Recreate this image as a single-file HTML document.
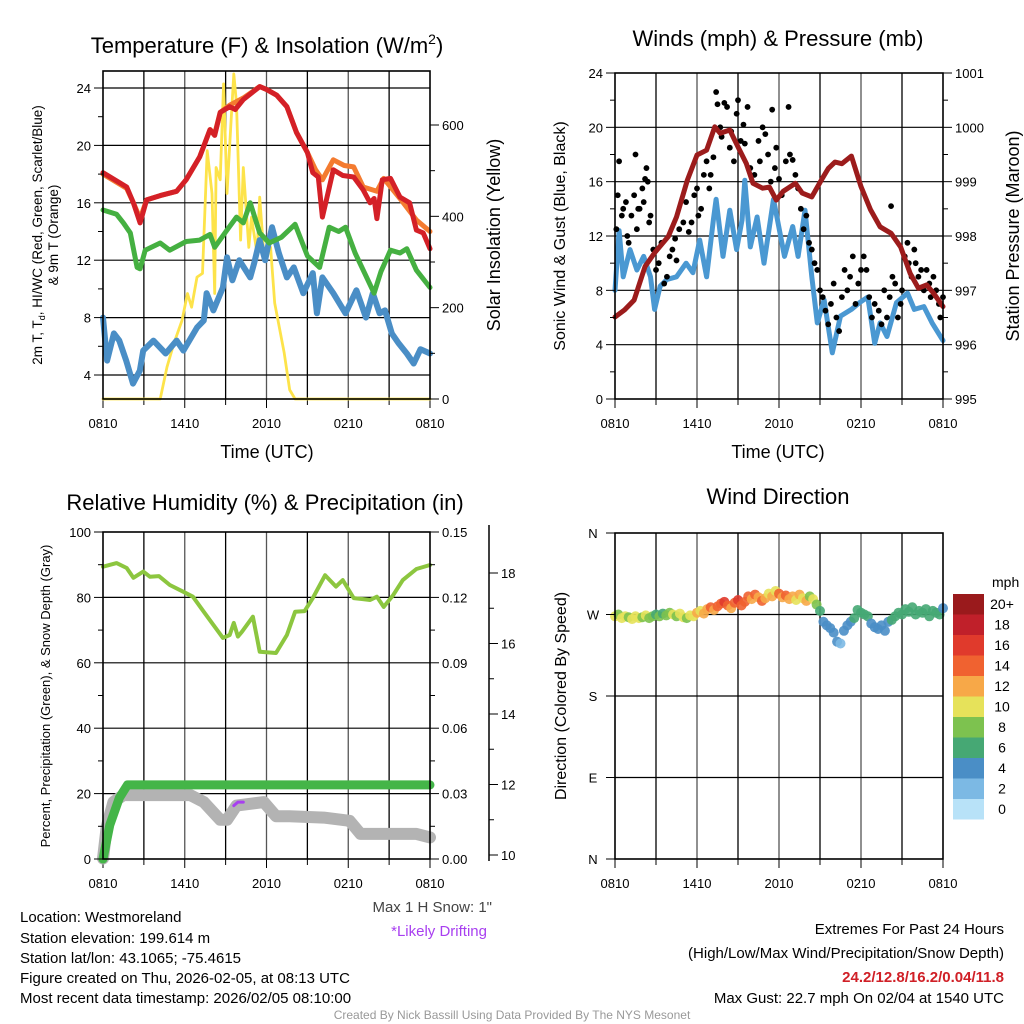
<!DOCTYPE html>
<html><head><meta charset="utf-8"><title>Station Meteogram</title>
<style>
html,body{margin:0;padding:0;background:#fff;}
svg{display:block;font-family:"Liberation Sans",Arial,sans-serif;}
</style></head>
<body>
<svg id="chart" width="1024" height="1024" viewBox="0 0 1024 1024" xmlns="http://www.w3.org/2000/svg">
<g id="static">
<text x="267" y="53" font-size="22" text-anchor="middle">Temperature (F) &amp; Insolation (W/m<tspan font-size="14" dy="-9">2</tspan><tspan dy="9">)</tspan></text>
<text x="778" y="46" font-size="22" text-anchor="middle">Winds (mph) &amp; Pressure (mb)</text>
<text x="265" y="510" font-size="22" text-anchor="middle">Relative Humidity (%) &amp; Precipitation (in)</text>
<text x="778" y="504" font-size="22" text-anchor="middle">Wind Direction</text>
<text x="267" y="458" font-size="18" text-anchor="middle">Time (UTC)</text>
<text x="778" y="458" font-size="18" text-anchor="middle">Time (UTC)</text>
<g transform="translate(42,235) rotate(-90)" font-size="13.5" text-anchor="middle">
<text x="0" y="0">2m T, T<tspan font-size="9" dy="3">d</tspan><tspan dy="-3">, HI/WC (Red, Green, Scarlet/Blue)</tspan></text>
<text x="0" y="16">&amp; 9m T (Orange)</text></g>
<text transform="translate(500,235) rotate(-90)" font-size="18" text-anchor="middle">Solar Insolation (Yellow)</text>
<text transform="translate(565,236) rotate(-90)" font-size="16" text-anchor="middle">Sonic Wind &amp; Gust (Blue, Black)</text>
<text transform="translate(1019,236) rotate(-90)" font-size="18" text-anchor="middle">Station Pressure (Maroon)</text>
<text transform="translate(50,696) rotate(-90)" font-size="13" text-anchor="middle">Percent, Precipitation (Green), &amp; Snow Depth (Gray)</text>
<text transform="translate(566,696) rotate(-90)" font-size="16" text-anchor="middle">Direction (Colored By Speed)</text>
<g font-size="15">
<text x="20" y="922">Location: Westmoreland</text>
<text x="20" y="943">Station elevation: 199.614 m</text>
<text x="20" y="963">Station lat/lon: 43.1065; -75.4615</text>
<text x="20" y="983">Figure created on Thu, 2026-02-05, at 08:13 UTC</text>
<text x="20" y="1003">Most recent data timestamp: 2026/02/05 08:10:00</text>
</g>
<text x="492" y="912" font-size="15" fill="#444" text-anchor="end">Max 1 H Snow: 1"</text>
<text x="487" y="936" font-size="15" fill="#a83ff0" text-anchor="end">*Likely Drifting</text>
<g font-size="15" text-anchor="end">
<text x="1004" y="934">Extremes For Past 24 Hours</text>
<text x="1004" y="958">(High/Low/Max Wind/Precipitation/Snow Depth)</text>
<text x="1004" y="982" fill="#d02027" font-weight="bold">24.2/12.8/16.2/0.04/11.8</text>
<text x="1004" y="1003">Max Gust: 22.7 mph On 02/04 at 1540 UTC</text>
</g>
<text x="512" y="1019" font-size="12" fill="#999" text-anchor="middle">Created By Nick Bassill Using Data Provided By The NYS Mesonet</text>
</g>
<g id="dyn"></g>
</svg>
<script>
// ---------- DATA ----------
const xTickLabels = ["0810","1410","2010","0210","0810"];
const tempTicks = [4,8,12,16,20,24];
const solarTicks = [0,200,400,600];
const windTicks = [0,4,8,12,16,20,24];
const presTicks = [995,996,997,998,999,1000,1001];
const rhTicks = [0,20,40,60,80,100];
const precipTicks = ["0.00","0.03","0.06","0.09","0.12","0.15"];
const snowTicks = [10,12,14,16,18];
const dirTickLabels = ["N","E","S","W","N"];
const dirTickValues = [0,90,180,270,360];

const redT = [0,1.74,2.23,2.72,3.2,4.2,5.4,6.1,7.1,7.85,8.2,8.6,9.3,9.7,10.3,11.5,12.0,12.75,13.5,14.2,15.0,15.4,15.8,16.1,16.4,16.9,17.6,18.4,19.1,19.6,19.9,20.1,20.5,21.1,21.8,22.5,23.0,23.5,24];
const redV = [18.1,17.1,16.0,14.6,16.2,16.5,16.8,17.6,19.2,21.1,20.7,22.3,22.7,22.5,23.2,24.1,23.9,23.5,22.7,20.9,19.5,18.1,17.8,15.0,16.2,18.3,17.9,17.8,16.9,16.0,16.3,14.9,17.6,17.7,16.4,16.0,14.1,13.9,12.8];
const orangeT = [0,1.74,2.23,2.72,3.2,4.2,5.4,6.1,7.1,7.85,8.2,8.6,9.3,10.3,11.5,12.0,12.75,13.5,14.2,15.0,15.6,16.1,16.9,17.7,18.4,19.1,20.1,20.6,21.8,23.0,24];
const orangeV = [18.0,17.0,16.0,14.9,16.2,16.5,16.8,17.6,19.2,21.1,20.8,22.3,22.8,23.3,24.1,23.9,23.5,22.7,20.9,19.5,18.3,17.6,19.0,18.6,18.5,17.1,16.8,17.7,16.3,14.8,14.0];
const greenT = [0,1.0,1.5,2.0,2.5,2.72,3.1,4.2,4.9,6.1,7.1,7.85,8.2,9.1,9.8,10.3,10.8,11.5,12.2,13.1,14.1,15.0,15.9,16.6,17.3,17.8,18.5,19.2,19.9,20.4,21.1,21.8,22.3,23.0,24];
const greenV = [15.5,15.2,14.6,13.9,11.5,11.4,12.7,13.2,12.7,13.3,13.4,13.8,12.9,14.1,15.0,14.6,16.0,13.9,13.2,13.6,14.5,12.3,11.5,14.3,14.0,14.3,12.5,11.1,9.7,11.2,12.7,12.5,12.8,11.3,10.1];
const blueT = [0,0.3,0.8,1.2,1.7,2.2,2.7,2.95,3.7,4.6,5.4,5.9,6.9,7.4,7.6,8.1,8.8,9.1,9.5,10.0,10.8,11.1,11.5,11.9,12.4,12.9,13.5,14.0,14.7,15.4,15.7,16.1,16.9,17.8,18.6,19.3,19.8,20.3,20.7,21.2,21.7,22.3,22.8,23.3,24];
const blueV = [8.0,5.0,6.9,6.4,5.0,3.4,4.3,5.7,6.4,5.5,6.4,5.7,7.3,7.8,9.7,8.5,10.1,12.2,10.6,12.0,10.8,11.8,13.4,12.0,14.3,12.5,10.8,11.5,9.7,11.1,8.3,10.8,9.7,8.3,9.9,8.0,9.7,8.3,8.5,6.9,6.2,5.5,4.8,5.8,5.5];
const solarT = [0,4.2,4.7,5.2,5.8,6.2,6.5,6.9,7.3,7.65,8.0,8.2,8.3,8.6,8.85,9.1,9.4,9.6,9.8,10.1,10.3,10.7,10.9,11.3,11.5,11.8,12.3,12.6,13.3,13.7,14.1,24];
const solarV = [0,0,70,122,172,231,201,267,275,544,450,231,507,480,690,450,610,712,647,348,507,332,398,319,442,319,332,210,101,20,0,0];

const presT = [0,0.7,1.4,2.2,2.9,3.9,4.5,5.3,6.0,6.7,7.3,7.7,8.4,9.0,9.6,10.1,10.8,11.3,11.8,12.3,13.2,13.7,14.4,15.1,15.6,16.1,16.6,17.3,18.0,18.7,19.4,20.2,20.9,21.6,22.2,22.8,23.3,24];
const presV = [996.51,996.64,996.82,997.44,997.69,997.99,998.35,999.03,999.49,999.58,1000.01,999.89,999.95,999.64,999.34,998.97,998.88,998.9,998.66,998.82,998.97,998.79,998.72,999.03,999.24,999.36,999.33,999.47,998.91,998.48,998.17,998.05,997.8,997.31,997.04,997.1,996.95,996.7];
const sonicT = [0,0.3,0.6,1.1,1.6,2.1,2.6,2.9,3.3,3.8,4.5,5.2,5.7,6.2,6.7,7.2,7.4,7.9,8.4,8.9,9.3,9.5,9.9,10.4,10.9,11.6,12.4,13.0,13.4,13.9,14.4,14.8,15.3,15.9,16.5,17.3,17.9,18.5,19.0,19.4,19.9,20.6,21.4,21.9,22.6,23.2,24];
const sonicV = [8.0,12.4,9.0,11.0,9.5,10.5,9.0,6.6,8.3,8.8,9.0,10.0,9.3,11.7,9.0,13.2,14.7,10.5,13.9,11.0,13.2,16.1,11.2,13.4,10.0,14.7,10.5,12.7,10.5,13.9,9.0,5.6,7.3,3.4,6.1,6.6,7.1,7.5,4.1,5.6,4.6,7.1,7.8,6.6,6.8,5.6,4.3];
const gustT = [0.1,0.2,0.3,0.5,0.6,0.8,0.9,1.0,1.2,1.4,1.5,1.6,1.7,1.8,2.0,2.1,2.2,2.3,2.4,2.5,2.6,2.8,3.0,3.2,3.4,3.6,3.8,4.0,4.2,4.4,4.5,4.7,5.0,5.2,5.4,5.6,5.8,6.0,6.1,6.3,6.5,6.7,6.9,7.0,7.2,7.4,7.5,7.7,7.8,8.0,8.2,8.4,8.5,8.7,8.9,9.0,9.2,9.4,9.5,9.7,9.9,10.2,10.5,10.6,10.8,11.0,11.2,11.4,11.5,11.7,11.8,12.0,12.2,12.5,12.7,12.8,13.0,13.2,13.4,13.6,13.8,14.0,14.2,14.4,14.6,14.8,15.0,15.2,15.4,15.6,15.8,16.0,16.2,16.4,16.6,16.8,17.0,17.2,17.4,17.6,17.8,18.0,18.2,18.4,18.6,18.8,19.0,19.3,19.5,19.7,19.9,20.1,20.2,20.3,20.5,20.7,20.9,21.0,21.2,21.4,21.5,21.7,21.9,22.0,22.2,22.4,22.6,22.8,23.0,23.1,23.3,23.5,23.7,23.8,24.0];
const gustV = [12.5,15,17.5,13.5,14,14.5,12,11.5,13.5,15,18,12.5,14,14,15.5,14.5,16.2,17,16,13,13.5,11,9.5,10,11.5,8.5,9,10.5,11,11.8,10.2,12.5,13,14.5,12.3,13,15,15.5,13.5,14,16.5,17.5,15.5,16.5,17.8,22.6,21.7,20,19.3,21.8,21.5,18.5,19.7,17.5,21,22,19,20.2,18.8,21.5,17,16.5,19,17.5,20,19.5,18,16,21.3,17,18.5,16.2,15,17.5,21.5,18,17.6,16.5,15.5,14,12.5,13.5,11.5,11,10,9.5,8,7.5,6.5,5.5,7,8.5,6,5,7.5,9.5,8,9,10.5,7,8.5,9.5,10.5,9.5,7.5,6,7,6.5,5.5,8,6,7.5,14.2,9,8.5,6,7,8,10.5,11.5,10,9,11,10,9,9.5,8,9.5,8.5,7.5,9,8,7,6,7.5];

const rhT = [0,1.0,1.74,2.23,2.96,3.45,4.1,4.9,5.9,6.6,7.4,8.1,8.8,9.3,9.6,9.9,10.2,11.0,11.5,12.7,13.5,14.1,14.8,15.4,16.3,17.1,17.6,18.4,19.0,19.6,20.1,20.6,21.3,22.0,23.0,24];
const rhV = [89.4,90.5,89,86,87.9,86.3,86.5,83.8,81.7,80.2,75.6,71.6,67.6,68.5,72.2,68,69.5,74.1,63.4,63,68.5,75.6,75.8,79.8,86.8,83.3,85.3,79.8,79.5,79.2,80.2,77.1,80.7,85.3,88.7,89.9];
const precipT = [0,0.5,1.2,1.5,1.8,24];
const precipV = [0,0.0156,0.028,0.031,0.034,0.034];
const snowT = [0,0.27,0.76,1.5,6.4,7.4,8.6,9.1,9.8,11.8,12.7,13.7,16.2,18.1,18.9,23,24];
const snowV = [9.9,10.8,11.5,11.7,11.7,11.5,11.0,11.0,11.4,11.5,11.1,11.1,11.06,10.97,10.6,10.6,10.5];
const driftT = [9.6,9.9,10.3];
const driftV = [11.4,11.5,11.5];

const dirT = [0,0.25,0.5,0.75,1,1.25,1.5,1.75,2,2.25,2.5,2.75,3,3.25,3.5,3.75,4,4.25,4.5,4.75,5,5.25,5.5,5.75,6,6.25,6.5,6.75,7,7.25,7.5,7.75,8,8.25,8.5,8.75,9,9.25,9.5,9.75,10,10.25,10.5,10.75,11,11.25,11.5,11.75,12,12.25,12.5,12.75,13,13.25,13.5,13.75,14,14.25,14.5,14.75,15,15.25,15.5,15.75,16,16.25,16.5,16.75,17,17.25,17.5,17.75,18,18.25,18.5,18.75,19,19.25,19.5,19.75,20,20.25,20.5,20.75,21,21.25,21.5,21.75,22,22.25,22.5,22.75,23,23.25,23.5,23.75,24];
const dirV = [268,270,266,268,267,265,268,266,267,269,266,268,270,268,271,269,272,270,268,271,267,266,269,268,272,274,271,276,278,275,279,282,284,280,277,283,286,280,284,290,287,292,289,285,288,293,290,296,293,289,291,287,290,286,292,288,285,290,287,281,274,262,258,255,250,240,238,252,258,262,266,275,272,270,268,260,256,254,258,252,262,264,268,272,270,276,273,278,270,274,272,276,268,274,272,270,277];
const dirSpeed = [10,9,11,10,8,10,11,10,9,10,8,9,7,8,7,9,8,10,9,10,11,9,10,11,12,11,13,12,14,13,15,14,16,15,13,14,17,14,15,14,13,15,12,14,12,11,13,10,15,12,14,13,12,11,13,10,12,9,11,8,6,5,4,4,5,4,3,4,5,5,6,7,7,6,6,4,4,5,4,4,5,6,6,7,6,7,6,7,6,6,7,6,6,7,6,6,5];
const speedBins = ["0","2","4","6","8","10","12","14","16","18","20+"];
const speedColors = ["#b8e2f8","#7cb9e4","#4a8ec6","#46a874","#7dc24f","#e6e25a","#f7a848","#f06230","#e03a2c","#c0202a","#9a1a1c"];

// ---------- RENDER ----------
const NS = "http://www.w3.org/2000/svg";
const dyn = document.getElementById("dyn");
function mk(tag, attrs, parent){ const e=document.createElementNS(NS,tag); for(const k in attrs) e.setAttribute(k,attrs[k]); (parent||dyn).appendChild(e); return e; }
function lin(d0,d1,r0,r1){ return v => r0+(v-d0)/(d1-d0)*(r1-r0); }
function path(ts,vs,xs,ys){ return ts.map((t,i)=>(i?"L":"M")+xs(t).toFixed(1)+","+ys(vs[i]).toFixed(1)).join(""); }

function frame(name,x0,y0,x1,y1,xs,hLines,ys){
  const g=mk("g",{});
  
  
  for(let h=3;h<24;h+=3){ mk("line",{x1:xs(h),x2:xs(h),y1:y0,y2:y1,stroke:(h%6===0?"#555":"#000"),"stroke-width":1.3},g); }
  hLines.forEach(v=>mk("line",{x1:x0,x2:x1,y1:ys(v),y2:ys(v),stroke:"#000","stroke-width":1.2},g));
  for(let h=0;h<=24;h+=3){ mk("line",{x1:xs(h),x2:xs(h),y1:y1,y2:y1+(h%6===0?9:6),stroke:"#000","stroke-width":1},g); }
  xTickLabels.forEach((l,i)=>{ const t=mk("text",{x:xs(i*6),y:y1+29,"font-size":13,"text-anchor":"middle"},g); t.textContent=l;
      });
  return g;
}
function border(name,x0,y0,x1,y1){
  const r=mk("rect",{x:x0,y:y0,width:x1-x0,height:y1-y0,fill:"none",stroke:"#000","stroke-width":1.6});
  
  
}
function yAxis(name,x,ys,vals,labels,side,minor){
  const dir = side==="left"?-1:1;
  vals.forEach((v,i)=>{ mk("line",{x1:x,x2:x+dir*9,y1:ys(v),y2:ys(v),stroke:"#000","stroke-width":1});
    const t=mk("text",{x:x+dir*12,y:ys(v)+5,"font-size":13,"text-anchor":side==="left"?"end":"start"}); t.textContent=labels[i];
      });
  if(minor){ for(let i=0;i<vals.length-1;i++){ const m=(vals[i]+vals[i+1])/2; mk("line",{x1:x,x2:x+dir*5,y1:ys(m),y2:ys(m),stroke:"#000","stroke-width":1}); } }
}
function line(name,ts,vs,xs,ys,color,w){
  const p=mk("path",{d:path(ts,vs,xs,ys),fill:"none",stroke:color,"stroke-width":w,"stroke-linejoin":"round","stroke-linecap":"round"});
  
  
}

// Panel 1
{ const x0=103,x1=430,y0=71,y1=399;
  const xs=lin(0,24,x0,x1), ys=lin(4,24,375,88), ysR=lin(0,600,399,125);
  frame("temp",x0,y0,x1,y1,xs,tempTicks,ys);
  line("solar-insolation-line",solarT,solarV,xs,ysR,"#fde34a",2.8);
  line("wind-chill-line",blueT,blueV,xs,ys,"#4a8ec6",6);
  line("dewpoint-line",greenT,greenV,xs,ys,"#45b041",5);
  line("temp-9m-line",orangeT,orangeV,xs,ys,"#f47b30",5);
  line("temp-2m-line",redT,redV,xs,ys,"#d42027",5);
  border("temp",x0,y0,x1,y1);
  yAxis("temp-y",x0,ys,tempTicks,tempTicks.map(String),"left",true);
  yAxis("solar-y",x1,ysR,solarTicks,solarTicks.map(String),"right",true);
}
// Panel 2
{ const x0=615,x1=943,y0=73,y1=399;
  const xs=lin(0,24,x0,x1), ys=lin(0,24,399,73), ysR=lin(995,1001,399,73);
  frame("wind",x0,y0,x1,y1,xs,windTicks.slice(1,-1),ys);
  line("sonic-wind-line",sonicT,sonicV,xs,ys,"#4a98d2",5);
  const g=mk("g",{});
  
  
  gustT.forEach((t,i)=>{ const c=mk("circle",{cx:xs(t),cy:ys(gustV[i]),r:2.9,fill:"#000"},g);
      });
  line("pressure-line",presT,presV,xs,ysR,"#9c1c1c",5);
  border("wind",x0,y0,x1,y1);
  yAxis("wind-y",x0,ys,windTicks,windTicks.map(String),"left",true);
  yAxis("pressure-y",x1,ysR,presTicks,presTicks.map(String),"right",true);
}
// Panel 3
{ const x0=103,x1=430,y0=532,y1=859;
  const xs=lin(0,24,x0,x1), ys=lin(0,100,859,532), ysP=lin(0,0.15,859,532), ysS=lin(10,18,855,573);
  frame("rh",x0,y0,x1,y1,xs,rhTicks.slice(1,-1),ys);
  line("snow-depth-line",snowT,snowV,xs,ysS,"#b3b3b3",12);
  line("drifting-line",driftT,driftV,xs,ysS,"#a83ff0",3);
  line("precip-line",precipT,precipV,xs,ysP,"#44b548",9);
  line("rh-line",rhT,rhV,xs,ys,"#8cc63f",4);
  border("rh",x0,y0,x1,y1);
  yAxis("rh-y",x0,ys,rhTicks,rhTicks.map(String),"left",true);
  yAxis("precip-y",x1,ysP,precipTicks.map(Number),precipTicks,"right",true);
  const sx=489;
  mk("line",{x1:sx,x2:sx,y1:525,y2:861,stroke:"#000","stroke-width":1.5});
  yAxis("snow-y",sx,ysS,snowTicks,snowTicks.map(String),"right",true);
}
// Panel 4
{ const x0=615,x1=943,y0=533,y1=859;
  const xs=lin(0,24,x0,x1), ys=lin(0,360,859,533);
  frame("dir",x0,y0,x1,y1,xs,[90,180,270],ys);
  const g=mk("g",{});
  
  
  dirT.forEach((t,i)=>{ const b=Math.min(10,Math.floor(dirSpeed[i]/2));
    const c=mk("circle",{cx:xs(t),cy:ys(dirV[i]),r:5,fill:speedColors[b],"fill-opacity":0.9},g);
      });
  border("dir",x0,y0,x1,y1);
  dirTickValues.forEach((v,i)=>{ mk("line",{x1:x0,x2:x0-9,y1:ys(v),y2:ys(v),stroke:"#000","stroke-width":1});
    const t=mk("text",{x:x0-22,y:ys(v)+5,"font-size":13,"text-anchor":"middle"}); t.textContent=dirTickLabels[i];
      });
  const lg=mk("g",{});
  
  
  const tt=mk("text",{x:992,y:587,"font-size":14},lg); tt.textContent="mph";
  for(let i=0;i<11;i++){ const k=10-i; const y=594+i*20.5;
    const r=mk("rect",{x:953,y:y,width:31,height:20.5,fill:speedColors[k]},lg);
     
    const t=mk("text",{x:1002,y:y+15,"font-size":14,"text-anchor":"middle"},lg); t.textContent=speedBins[k];
      }
}
</script>
</body></html>
